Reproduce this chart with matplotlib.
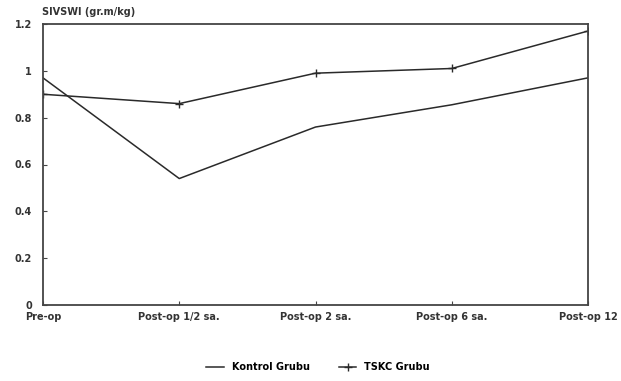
import matplotlib
matplotlib.use("Agg")
import matplotlib.pyplot as plt

categories = ["Pre-op", "Post-op 1/2 sa.", "Post-op 2 sa.", "Post-op 6 sa.", "Post-op 12"]
kontrol = [0.97, 0.54, 0.76, 0.855, 0.97]
tskc = [0.90, 0.86, 0.99, 1.01, 1.17]
yticks = [0, 0.2, 0.4, 0.6, 0.8, 1, 1.2]
ytick_labels = ["0", "0.2", "0.4", "0.6", "0.8", "1", "1.2"]

fig = plt.figure(figsize=(6.21, 3.81), dpi=100)
ax = fig.add_axes([43/621, 1 - 305/381, (588-43)/621, (305-24)/381])

x = list(range(len(categories)))
c = "#2a2a2a"
ax.plot(x, kontrol, color=c, lw=1.1, label="Kontrol Grubu")
ax.plot(x, tskc, color=c, lw=1.1, marker="+", ms=6, mew=1.0, label="TSKC Grubu")

ax.set_xlim(0, 4)
ax.set_ylim(0, 1.2)
ax.set_yticks(yticks)
ax.set_yticklabels(ytick_labels, fontsize=7, fontweight="bold", color="#333333")
ax.set_xticks(x)
ax.set_xticklabels(categories, fontsize=7, fontweight="bold", color="#333333")
ax.tick_params(axis="both", direction="in", length=3, width=0.8, colors="#444444", labelcolor="#333333")
ax.tick_params(axis="y", pad=8)
ax.tick_params(axis="x", pad=5)
for s in ax.spines.values():
    s.set_color("#444444")
    s.set_linewidth(1.3)

fig.text(42/621, 1 - 12/381, "SIVSWI (gr.m/kg)", fontsize=7, fontweight="bold", color="#333333", va="center", ha="left")

fig.legend(loc="center", bbox_to_anchor=(318/621, 1 - 367/381), ncol=2, frameon=False,
           handlelength=1.8, columnspacing=3,
           prop={"size": 7, "weight": "bold"})

fig.savefig("out.png", dpi=100)
